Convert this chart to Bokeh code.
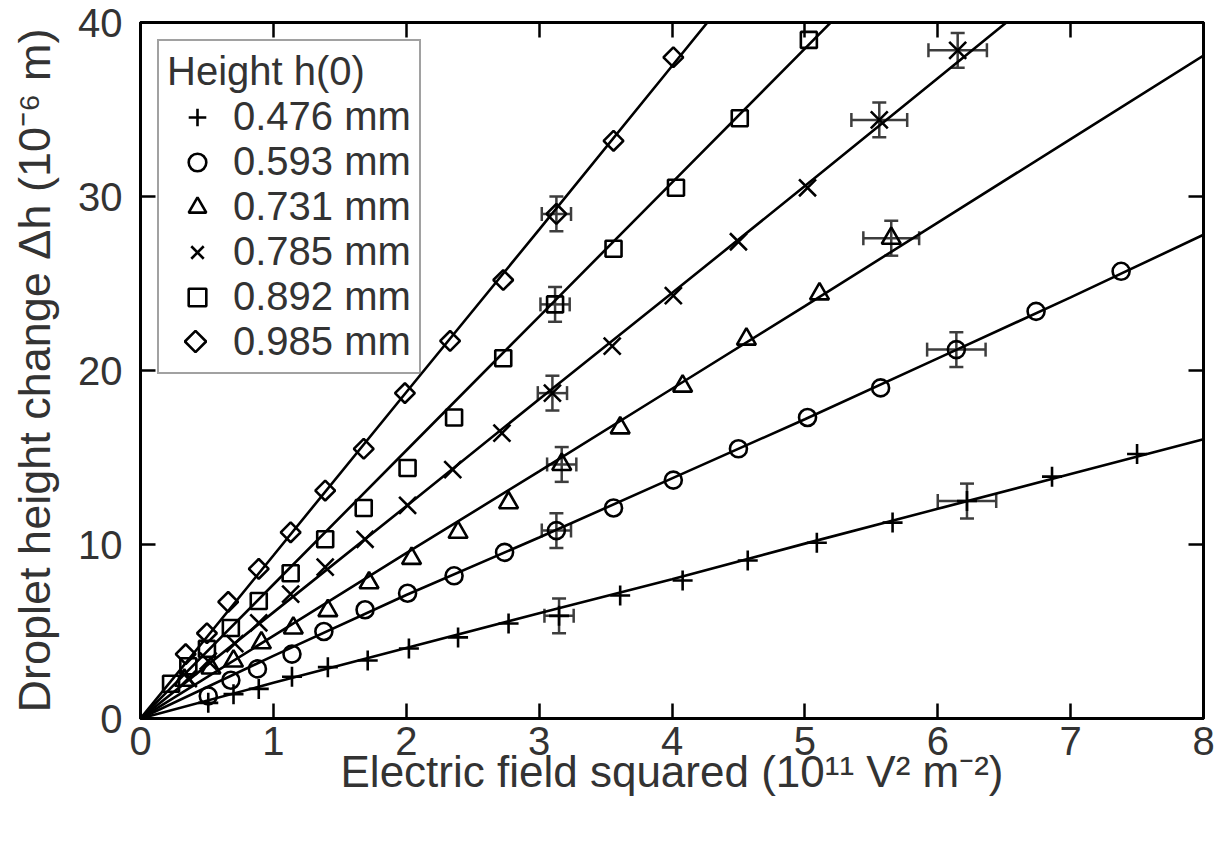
import numpy as np
from bokeh.plotting import figure
from bokeh.models import (Range1d, LinearAxis, Legend, LegendItem, Whisker, TeeHead,
                          ColumnDataSource, FixedTicker)
from bokeh.embed import file_html
from bokeh.resources import INLINE

# ---------------- data ----------------
labels = ["0.476 mm", "0.593 mm", "0.731 mm", "0.785 mm", "0.892 mm", "0.985 mm"]

x_476 = [0.51, 0.70, 0.89, 1.14, 1.41, 1.71, 2.02, 2.39, 2.77, 3.15, 3.61, 4.08, 4.57, 5.09, 5.66, 6.22, 6.86, 7.50]
y_476 = [0.9, 1.4, 1.7, 2.4, 2.95, 3.33, 4.02, 4.66, 5.46, 5.9, 7.07, 7.93, 9.08, 10.1, 11.26, 12.5, 13.9, 15.2]

x_593 = [0.51, 0.68, 0.88, 1.14, 1.38, 1.69, 2.01, 2.36, 2.74, 3.13, 3.56, 4.01, 4.50, 5.02, 5.57, 6.14, 6.74, 7.38]
y_593 = [1.3, 2.2, 2.85, 3.7, 5.0, 6.25, 7.2, 8.2, 9.55, 10.8, 12.1, 13.7, 15.5, 17.3, 19.0, 21.2, 23.4, 25.7]

x_731 = [0.33, 0.53, 0.70, 0.91, 1.15, 1.41, 1.72, 2.04, 2.39, 2.77, 3.17, 3.61, 4.08, 4.56, 5.11, 5.65]
y_731 = [2.2, 2.9, 3.3, 4.35, 5.2, 6.2, 7.8, 9.2, 10.7, 12.4, 14.6, 16.7, 19.1, 21.8, 24.4, 27.6]

x_785 = [0.36, 0.51, 0.71, 0.89, 1.13, 1.39, 1.69, 2.01, 2.35, 2.72, 3.10, 3.55, 4.01, 4.50, 5.02, 5.56, 6.15]
y_785 = [2.3, 3.3, 4.3, 5.5, 7.15, 8.7, 10.3, 12.25, 14.3, 16.4, 18.7, 21.4, 24.3, 27.4, 30.5, 34.4, 38.4]

x_892 = [0.23, 0.36, 0.50, 0.68, 0.89, 1.13, 1.39, 1.68, 2.01, 2.36, 2.73, 3.12, 3.56, 4.03, 4.51, 5.03]
y_892 = [2.0, 3.0, 4.0, 5.2, 6.75, 8.35, 10.3, 12.1, 14.4, 17.3, 20.7, 23.8, 27.0, 30.5, 34.5, 39.0]

x_985 = [0.34, 0.50, 0.66, 0.89, 1.13, 1.39, 1.68, 1.99, 2.33, 2.73, 3.13, 3.56, 4.01]
y_985 = [3.7, 4.9, 6.7, 8.6, 10.7, 13.1, 15.5, 18.7, 21.7, 25.2, 29.0, 33.2, 38.0]

# fitted curves, read at x = 0..8
fit_x = [0, 1, 2, 3, 4, 5, 6, 7, 8]
fit_476 = [0, 2.05, 4.05, 6.05, 8.0, 10.05, 12.05, 14.05, 16.05]
fit_593 = [0, 3.6, 7.1, 10.4, 13.8, 17.2, 20.7, 24.2, 27.8]
fit_731 = [0, 4.75, 9.5, 14.2, 18.95, 23.7, 28.5, 33.3, 38.1]
fit_785 = [0, 6.1, 12.2, 18.35, 24.45, 30.6, 36.8, 43.0, 49.1]
fit_892 = [0, 7.7, 15.4, 23.1, 30.8, 38.5, 46.2, 53.9, 61.6]
fit_985 = [0, 9.37, 18.75, 28.1, 37.5, 46.9, 56.2, 65.6, 75.0]

# points with error bars
err_x = [3.15, 6.22, 3.13, 6.14, 3.17, 5.65, 3.10, 5.56, 6.15, 3.12, 3.13]
err_y = [5.9, 12.5, 10.8, 21.2, 14.6, 27.6, 18.7, 34.4, 38.4, 23.8, 29.0]
err_dx = [0.11, 0.22, 0.11, 0.22, 0.11, 0.21, 0.11, 0.21, 0.22, 0.11, 0.11]
err_dy = [1.0, 1.0, 1.0, 1.0, 1.0, 1.0, 1.0, 1.0, 1.0, 1.0, 1.0]

# ---------------- figure ----------------
FONT = "Liberation Sans"
TXT = "#333333"
W, H = 1228, 826
FL, FT, FW, FH = 140, 22, 1063, 696      # plot frame in screen pixels
X0, X1, Y0, Y1 = 0, 8, 0, 40

p = figure(width=W, height=H, x_range=Range1d(X0, X1), y_range=Range1d(Y0, Y1),
           output_backend="svg", toolbar_location=None,
           min_border_left=FL, min_border_right=W - FL - FW,
           min_border_top=FT, min_border_bottom=H - FT - FH)
p.grid.visible = False
p.outline_line_color = "black"
p.outline_line_width = 3

xt = FixedTicker(ticks=list(range(0, 9)))
yt = FixedTicker(ticks=[0, 10, 20, 30, 40])


def style_axis(ax, show_labels=True):
    ax.axis_line_width = 3
    ax.axis_line_color = "black"
    ax.major_tick_in = 15
    ax.major_tick_out = 0
    ax.major_tick_line_width = 2.5
    ax.major_tick_line_color = "black"
    ax.minor_tick_in = 0
    ax.minor_tick_out = 0
    ax.major_label_text_font = FONT
    ax.axis_label_text_font = FONT
    ax.axis_label_text_color = TXT
    ax.axis_label_text_font_style = "normal"
    if show_labels:
        ax.major_label_text_color = TXT
        ax.major_label_text_font_size = "40px"
    else:
        ax.major_label_text_color = None
        ax.major_label_text_font_size = "1px"
        ax.major_label_standoff = 0


xa = p.xaxis[0]
xa.ticker = xt
style_axis(xa)
xa.major_label_standoff = 8
xa.axis_label = "Electric field squared (10¹¹ V² m⁻²)"
xa.axis_label_text_font_size = "44px"
xa.axis_label_standoff = -11

ya = p.yaxis[0]
ya.ticker = yt
style_axis(ya)
ya.major_label_standoff = 18
ya.axis_label = "Droplet height change Δh (10⁻⁶ m)"
ya.axis_label_text_font_size = "45px"
ya.axis_label_standoff = 15

top = LinearAxis(ticker=xt)
style_axis(top, False)
p.add_layout(top, "above")
right = LinearAxis(ticker=yt)
style_axis(right, False)
p.add_layout(right, "right")

# fit lines
for fy in [fit_476, fit_593, fit_731, fit_785, fit_892, fit_985]:
    p.line(fit_x, fy, line_color="black", line_width=2.6)

# markers
LW = 2.6
specs = [
    (x_476, y_476, "cross", 20, 0.0),
    (x_593, y_593, "circle", 17, 0.0),
    (x_731, y_731, "triangle", 19, 0.0),
    (x_785, y_785, "x", 24, 0.0),
    (x_892, y_892, "square", 16, 0.0),
    (x_985, y_985, "square", 14, np.pi / 4),
]
items = []
for i, ((xs, ys, mk, sz, ang), lab) in enumerate(zip(specs, labels)):
    r = p.scatter(xs, ys, marker=mk, size=sz, angle=ang, line_color="black",
                  fill_color=None, line_width=LW)
    if i < 5:
        items.append(LegendItem(label=lab, renderers=[r]))
    else:
        # legend key drawn separately (legend keys ignore marker rotation)
        ghost = p.scatter([], [], marker="square", line_alpha=0, fill_alpha=0)
        items.append(LegendItem(label=lab, renderers=[ghost]))

# error bars
src = ColumnDataSource(dict(
    x=err_x, y=err_y,
    xl=[a - b for a, b in zip(err_x, err_dx)], xu=[a + b for a, b in zip(err_x, err_dx)],
    yl=[a - b for a, b in zip(err_y, err_dy)], yu=[a + b for a, b in zip(err_y, err_dy)],
))
ECOL = "#3d3d3d"
for dim, base, lo, up in [("height", "x", "yl", "yu"), ("width", "y", "xl", "xu")]:
    w = Whisker(source=src, base=base, lower=lo, upper=up, dimension=dim,
                line_color=ECOL, line_width=2.5,
                upper_head=TeeHead(size=14, line_color=ECOL, line_width=2.5),
                lower_head=TeeHead(size=14, line_color=ECOL, line_width=2.5))
    p.add_layout(w)

# legend
LEG_MARGIN, LEG_PAD, GLW, ROWH, TITLE_H, TITLE_SO = 17, 8, 60, 45, 46.5, 0
legend = Legend(items=items, title="Height h(0)", location="top_left", margin=LEG_MARGIN,
                padding=LEG_PAD, spacing=0, label_height=44, glyph_height=44, glyph_width=GLW,
                label_standoff=6, title_standoff=TITLE_SO,
                label_text_font=FONT, label_text_font_size="40px", label_text_color=TXT,
                title_text_font=FONT, title_text_font_size="40px", title_text_color=TXT,
                title_text_font_style="normal",
                border_line_color="#444444", border_line_width=2.5,
                background_fill_alpha=0.0)
p.add_layout(legend)

# rotated-square key for the last legend row, placed at that row's key centre
key_sx = FL + LEG_MARGIN + LEG_PAD + GLW / 2
key_sy = FT + LEG_MARGIN + LEG_PAD + TITLE_H + TITLE_SO + 5.5 * ROWH
key_x = X0 + (key_sx - FL) * (X1 - X0) / FW
key_y = Y1 - (key_sy - FT) * (Y1 - Y0) / FH
p.scatter([key_x], [key_y], marker="square", size=15, angle=np.pi / 4,
          line_color="black", fill_color=None, line_width=LW)

open("out.html", "w").write(file_html(p, INLINE))
